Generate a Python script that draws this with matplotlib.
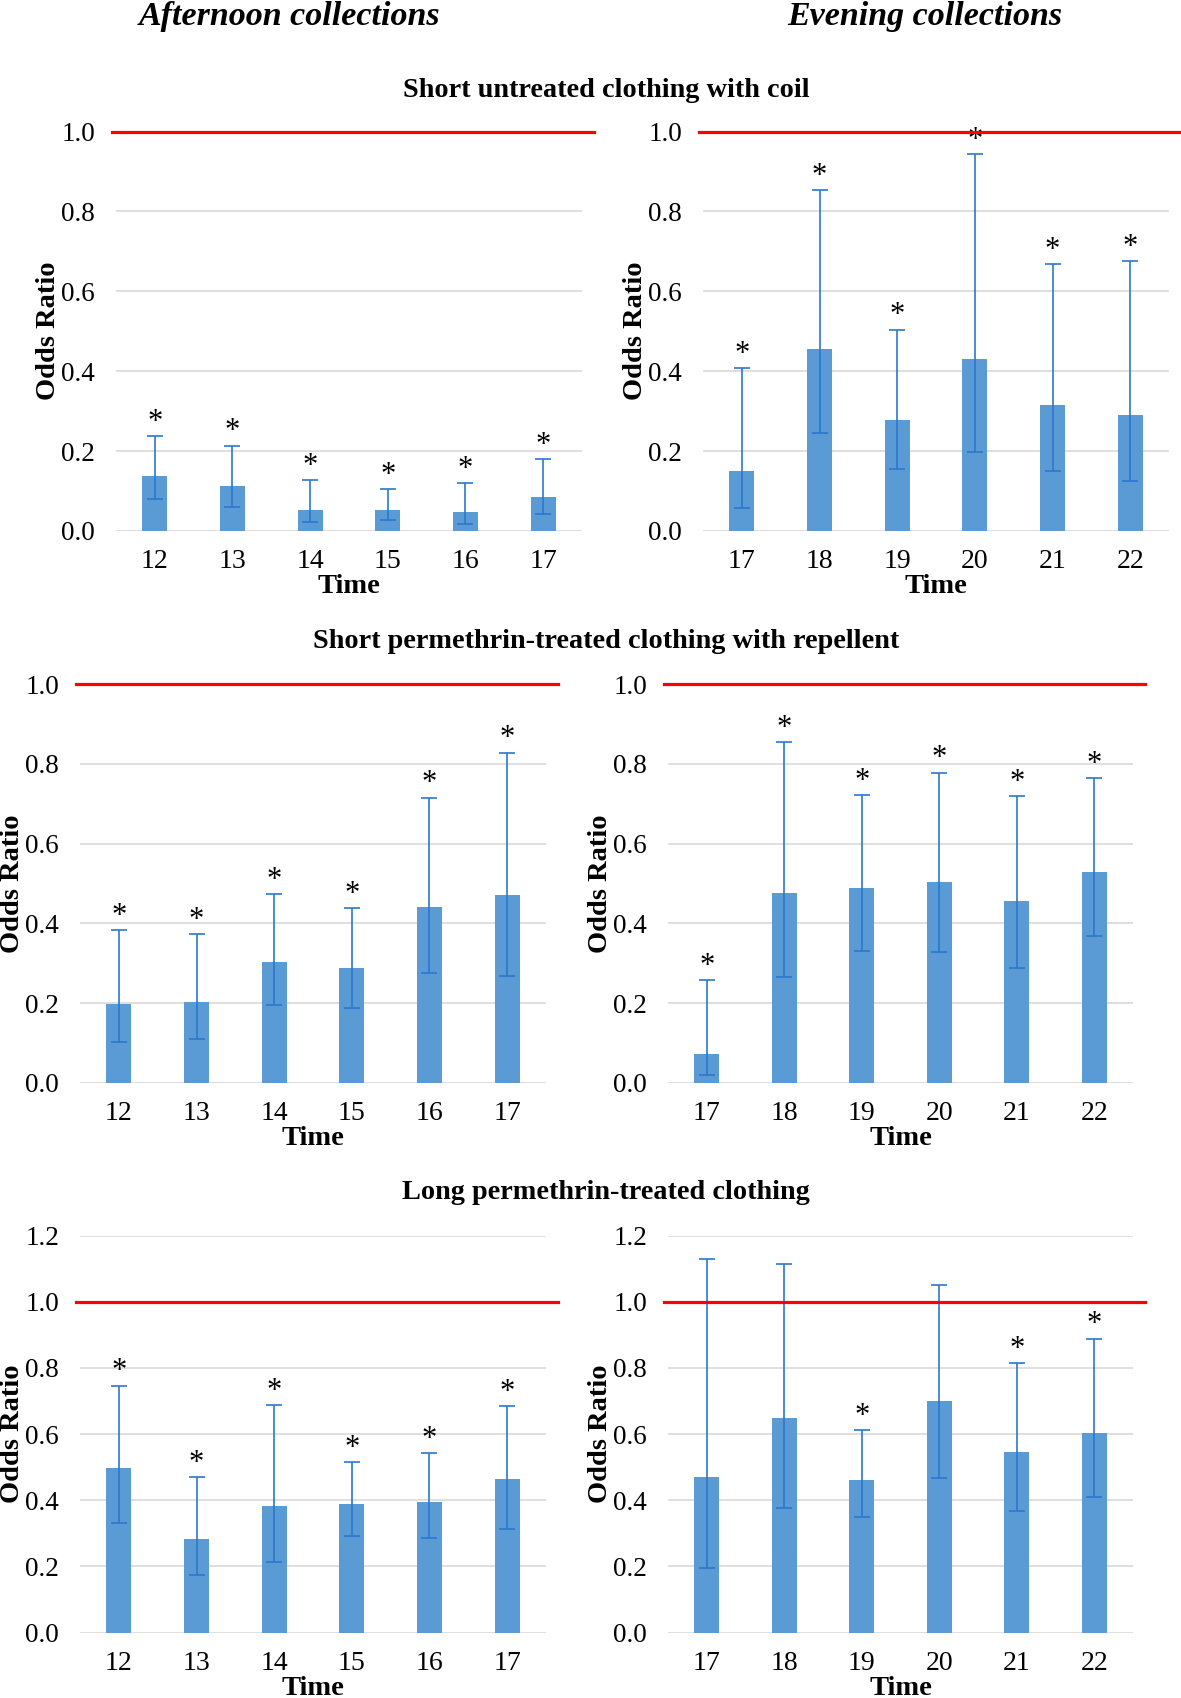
import numpy as np
import matplotlib.pyplot as plt

plt.rcParams['font.family'] = ['Liberation Serif', 'DejaVu Serif']

hours_afternoon = ['12', '13', '14', '15', '16', '17']
hours_evening = ['17', '18', '19', '20', '21', '22']

# short untreated clothing with coil
coil_aft_or = [0.137, 0.112, 0.053, 0.053, 0.048, 0.086]
coil_aft_lo = [0.080, 0.060, 0.023, 0.028, 0.018, 0.042]
coil_aft_hi = [0.237, 0.214, 0.127, 0.104, 0.119, 0.180]
coil_eve_or = [0.151, 0.456, 0.277, 0.431, 0.315, 0.290]
coil_eve_lo = [0.057, 0.245, 0.154, 0.197, 0.151, 0.126]
coil_eve_hi = [0.407, 0.853, 0.504, 0.944, 0.668, 0.675]

# short permethrin-treated clothing with repellent
rep_aft_or = [0.198, 0.203, 0.304, 0.287, 0.442, 0.471]
rep_aft_lo = [0.102, 0.111, 0.196, 0.189, 0.275, 0.269]
rep_aft_hi = [0.384, 0.374, 0.474, 0.439, 0.715, 0.828]
rep_eve_or = [0.073, 0.475, 0.488, 0.505, 0.455, 0.530]
rep_eve_lo = [0.021, 0.266, 0.331, 0.328, 0.289, 0.369]
rep_eve_hi = [0.257, 0.855, 0.721, 0.778, 0.719, 0.764]

# long permethrin-treated clothing
long_aft_or = [0.497, 0.284, 0.382, 0.388, 0.394, 0.463]
long_aft_lo = [0.332, 0.173, 0.212, 0.291, 0.286, 0.314]
long_aft_hi = [0.746, 0.470, 0.687, 0.516, 0.542, 0.685]
long_eve_or = [0.471, 0.648, 0.462, 0.700, 0.546, 0.604]
long_eve_lo = [0.196, 0.377, 0.348, 0.468, 0.367, 0.411]
long_eve_hi = [1.129, 1.113, 0.612, 1.049, 0.814, 0.888]

all_sig = [True] * 6
long_eve_sig = [False, False, True, False, True, True]

row_titles = ['Short untreated clothing with coil',
              'Short permethrin-treated clothing with repellent',
              'Long permethrin-treated clothing']

panels = [
    (hours_afternoon, coil_aft_or, coil_aft_lo, coil_aft_hi, all_sig, 1.0),
    (hours_evening, coil_eve_or, coil_eve_lo, coil_eve_hi, all_sig, 1.0),
    (hours_afternoon, rep_aft_or, rep_aft_lo, rep_aft_hi, all_sig, 1.0),
    (hours_evening, rep_eve_or, rep_eve_lo, rep_eve_hi, all_sig, 1.0),
    (hours_afternoon, long_aft_or, long_aft_lo, long_aft_hi, all_sig, 1.2),
    (hours_evening, long_eve_or, long_eve_lo, long_eve_hi, long_eve_sig, 1.2),
]

W, H = 1181, 1698
# axes boxes in pixels: left, top, right, bottom
boxes = [
    (116, 131.5, 582, 531), (703, 131.5, 1169, 531),
    (80, 684, 546, 1083), (668, 684, 1133, 1083),
    (80, 1235.5, 546, 1632.5), (668, 1235.5, 1133, 1632.5),
]

bar_color = '#5B9BD5'
err_color = '#2A78CC'

fig = plt.figure(figsize=(W / 100, H / 100), dpi=100)

for (labels, orr, lo, hi, sig, ymax), (l, t, r, b) in zip(panels, boxes):
    ax = fig.add_axes([l / W, 1 - b / H, (r - l) / W, (b - t) / H])
    x = np.arange(len(labels))
    orr = np.array(orr)
    yerr = [orr - np.array(lo), np.array(hi) - orr]
    ax.bar(x, orr, width=0.32, color=bar_color, zorder=2)
    ax.errorbar(x, orr, yerr=yerr, fmt='none', ecolor=err_color,
                elinewidth=1.2, capsize=5.5, capthick=1.2, zorder=3)
    for xi, h, s in zip(x, hi, sig):
        if s:
            ax.annotate('*', (xi, h), xytext=(0, 4.5), textcoords='offset points',
                        ha='center', va='baseline', fontsize=22)
    ax.plot([-0.008, 1.025], [1.0, 1.0], color='#FF0000', lw=2.3,
            transform=ax.get_yaxis_transform(), clip_on=False, zorder=4)
    ax.set_xlim(-0.5, len(labels) - 0.5)
    ax.set_ylim(0, ymax)
    ax.set_yticks(np.arange(0, ymax + 0.01, 0.2))
    ax.yaxis.set_major_formatter(plt.FormatStrFormatter('%.1f'))
    ax.set_xticks(x)
    ax.set_xticklabels(labels)
    ax.grid(axis='y', color='#D9D9D9', lw=1.2, zorder=0)
    for sp in ax.spines.values():
        sp.set_visible(False)
    ax.tick_params(axis='y', length=0, pad=15, labelsize=19.5)
    ax.tick_params(axis='x', length=0, pad=13, labelsize=20)
    ax.set_ylabel('Odds Ratio', fontsize=20.5, fontweight='bold', labelpad=0)
    ax.set_xlabel('Time', fontsize=20.5, fontweight='bold', labelpad=0)

fig.text(290 / W, 1 - 25 / H, 'Afternoon collections', fontsize=24.5,
         fontweight='bold', fontstyle='italic', ha='center', va='baseline')
fig.text(925 / W, 1 - 25 / H, 'Evening collections', fontsize=24.5,
         fontweight='bold', fontstyle='italic', ha='center', va='baseline')
for title, yb in zip(row_titles, [96.7, 647.7, 1198.7]):
    fig.text(606 / W, 1 - yb / H, title, fontsize=20.3, fontweight='bold',
             ha='center', va='baseline')

fig.savefig('out.png', dpi=100)
